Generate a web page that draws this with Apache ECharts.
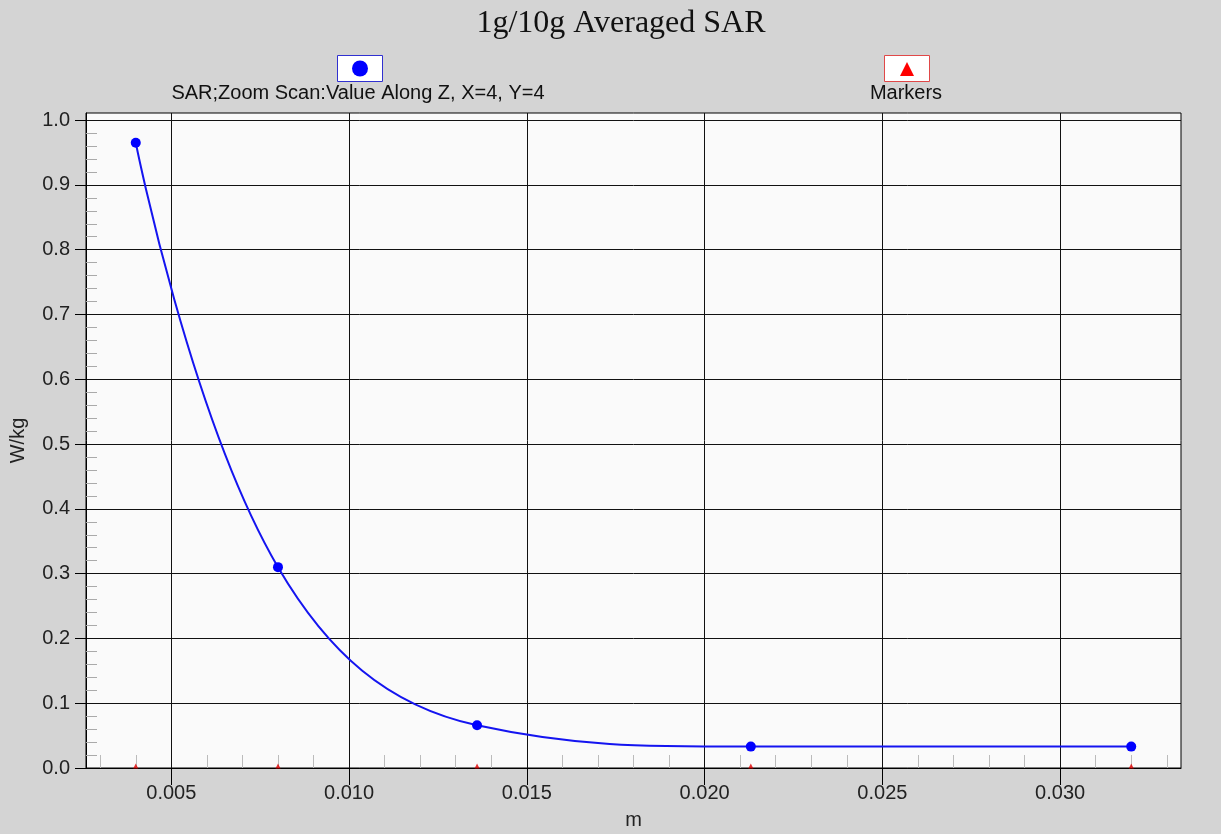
<!DOCTYPE html>
<html><head><meta charset="utf-8">
<script src="https://cdn.jsdelivr.net/npm/echarts@6/dist/echarts.min.js"></script>
<style>html,body{margin:0;padding:0;background:#d4d4d4}#c{width:1221px;height:834px}</style>
</head><body><div id="c"></div>
<script>
const titleText = '1g/10g Averaged SAR';
const seriesNames = ['SAR;Zoom Scan:Value Along Z, X=4, Y=4', 'Markers'];
const xValues = [0.004, 0.008, 0.0136, 0.0213, 0.032];
const sarValues = [0.965, 0.310, 0.066, 0.033, 0.033];
const markerValues = [0, 0, 0, 0, 0];
const xTicks = [0.005, 0.010, 0.015, 0.020, 0.025, 0.030];
const yTicks = [0.0, 0.1, 0.2, 0.3, 0.4, 0.5, 0.6, 0.7, 0.8, 0.9, 1.0];
const xName = 'm';
const yName = 'W/kg';

const chart = echarts.init(document.getElementById('c'), null, {renderer: 'canvas'});
const sans = 'Liberation Sans, Arial, sans-serif';
chart.setOption({
  backgroundColor: '#d4d4d4',
  animation: false,
  title: {
    text: titleText,
    left: 616, top: 3, textAlign: 'center',
    textStyle: {fontFamily: 'Liberation Serif', fontSize: 32, fontWeight: 'normal', color: '#111'}
  },
  grid: {left: 86, right: 40, top: 113, bottom: 66, show: true, backgroundColor: '#fafafa',
         borderColor: '#000', borderWidth: 1, containLabel: false, outerBoundsMode: 'none'},
  xAxis: {
    type: 'value', min: 0.0026, max: 0.0334, splitNumber: 6,
    name: xName, nameLocation: 'middle', nameGap: 42,
    nameTextStyle: {fontFamily: sans, fontSize: 20, color: '#222'},
    axisLine: {show: true, lineStyle: {color: '#000', width: 1}},
    axisTick: {show: true, length: 17, lineStyle: {color: '#000'}, customValues: xTicks},
    minorTick: {show: true, splitNumber: 5, length: -13, lineStyle: {color: '#bbb'}},
    axisLabel: {fontFamily: sans, fontSize: 20, color: '#222', margin: 15, customValues: xTicks,
                formatter: v => v.toFixed(3)},
    splitLine: {show: true, lineStyle: {color: '#111', width: 1}}
  },
  yAxis: {
    type: 'value', min: 0, max: 1.011, splitNumber: 10,
    name: yName, nameLocation: 'middle', nameGap: 58,
    nameTextStyle: {fontFamily: sans, fontSize: 20, color: '#222'},
    axisLine: {show: true, lineStyle: {color: '#000', width: 1}},
    axisTick: {show: true, length: 11, lineStyle: {color: '#000'}, customValues: yTicks},
    minorTick: {show: true, splitNumber: 5, length: -11, lineStyle: {color: '#aaa'}},
    axisLabel: {fontFamily: sans, fontSize: 20, color: '#222', margin: 16, customValues: yTicks,
                formatter: v => v.toFixed(1)},
    splitLine: {show: true, lineStyle: {color: '#111', width: 1}}
  },
  graphic: [
    {type: 'rect', shape: {x: 337.5, y: 55.5, width: 45, height: 26}, style: {fill: '#fff', stroke: '#3030d0', lineWidth: 1}},
    {type: 'circle', shape: {cx: 360, cy: 68.5, r: 8}, style: {fill: '#0000ff'}},
    {type: 'text', x: 358, y: 93, style: {text: seriesNames[0], font: '20px Liberation Sans', fill: '#111', align: 'center', verticalAlign: 'middle'}},
    {type: 'rect', shape: {x: 884.5, y: 55.5, width: 45, height: 26}, style: {fill: '#fff', stroke: '#e04848', lineWidth: 1}},
    {type: 'polygon', shape: {points: [[907, 62], [900, 76], [914, 76]]}, style: {fill: '#ff0000'}},
    {type: 'text', x: 906, y: 93, style: {text: seriesNames[1], font: '20px Liberation Sans', fill: '#111', align: 'center', verticalAlign: 'middle'}}
  ],
  series: [
    {
      name: seriesNames[1], type: 'scatter', z: 3,
      data: xValues.map((x, i) => [x, markerValues[i]]),
      symbol: 'triangle', symbolSize: [5, 5], symbolOffset: [0, -2],
      itemStyle: {color: '#e00000'}
    },
    {
      name: seriesNames[0], type: 'line', z: 4,
      data: xValues.map((x, i) => [x, sarValues[i]]),
      smooth: 0.4, symbol: 'circle', symbolSize: 10, showSymbol: true,
      itemStyle: {color: '#0000ff'},
      lineStyle: {color: '#1414f0', width: 2}
    }
  ]
});
</script></body></html>
